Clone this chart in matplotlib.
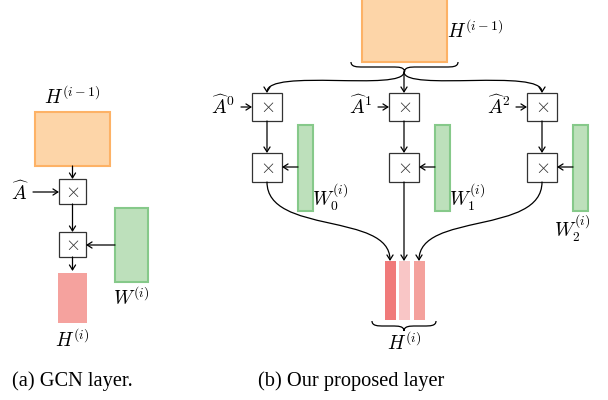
import numpy as np
import matplotlib
matplotlib.use("Agg")
import matplotlib.pyplot as plt
from matplotlib.patches import Rectangle, FancyArrowPatch, PathPatch
from matplotlib.path import Path

plt.rcParams['mathtext.fontset'] = 'cm'

# labels
captions = ['(a) GCN layer.', '(b) Our proposed layer']
adj_labels = [r'$\widehat{A}^0$', r'$\widehat{A}^1$', r'$\widehat{A}^2$']
w_labels = [r'$W_0^{(i)}$', r'$W_1^{(i)}$', r'$W_2^{(i)}$']
h_in = r'$H^{(i-1)}$'
h_out = r'$H^{(i)}$'
out_colors = ['#f07a7a', '#f9c6c6', '#f4a19c']

ORANGE_F, ORANGE_E = '#fdd5a8', '#fdb266'
GREEN_F, GREEN_E = '#bde0bb', '#86c98a'
RED_F = '#f5a29e'
BOX_E = '#333333'
FS = 14

fig = plt.figure(figsize=(6.08, 4.0), dpi=100)
ax = fig.add_axes([0, 0, 1, 1])
ax.set_xlim(0, 608)
ax.set_ylim(400, 0)
ax.axis('off')


def rect(x0, y0, x1, y1, fc, ec, lw=1.5):
    ax.add_patch(Rectangle((x0, y0), x1 - x0, y1 - y0, fc=fc, ec=ec, lw=lw))


def times_box(x0, y0, x1, y1):
    rect(x0, y0, x1, y1, 'white', BOX_E, 0.9)
    ax.text((x0 + x1) / 2, (y0 + y1) / 2, r'$\times$', ha='center', va='center',
            fontsize=14, color='#333333')


def arrow(p0, p1):
    ax.add_patch(FancyArrowPatch(p0, p1, arrowstyle='->,head_length=0.35,head_width=0.22',
                                 mutation_scale=10, lw=0.9, color='black',
                                 shrinkA=0, shrinkB=0))


def curve_arrow(p0, c1, c2, p1):
    path = Path([p0, c1, c2, p1], [Path.MOVETO, Path.CURVE4, Path.CURVE4, Path.CURVE4])
    ax.add_patch(FancyArrowPatch(path=path, arrowstyle='->,head_length=0.35,head_width=0.22',
                                 mutation_scale=10, lw=0.9, color='black'))


def brace(x0, x1, y, depth):
    # curly brace from x0 to x1 at height y, tip pointing down
    xm = (x0 + x1) / 2
    d = depth / 2
    verts = [(x0, y),
             (x0, y + d), (x0 + 6, y + d), (x0 + 12, y + d),
             (xm - 12, y + d),
             (xm - 6, y + d), (xm, y + d), (xm, y + depth),
             (xm, y + d), (xm + 6, y + d), (xm + 12, y + d),
             (x1 - 12, y + d),
             (x1 - 6, y + d), (x1, y + d), (x1, y)]
    codes = [Path.MOVETO,
             Path.CURVE4, Path.CURVE4, Path.CURVE4,
             Path.LINETO,
             Path.CURVE4, Path.CURVE4, Path.CURVE4,
             Path.CURVE4, Path.CURVE4, Path.CURVE4,
             Path.LINETO,
             Path.CURVE4, Path.CURVE4, Path.CURVE4]
    ax.add_patch(PathPatch(Path(verts, codes), fc='none', ec='black', lw=0.9))


# ---- (a) GCN layer ----
rect(35, 112, 110, 166, ORANGE_F, ORANGE_E)
ax.text(72, 97, h_in, ha='center', va='center', fontsize=FS)
times_box(59, 179, 86, 204)
arrow((72.5, 166), (72.5, 179))
ax.text(20, 192, r'$\widehat{A}$', ha='center', va='center', fontsize=FS)
arrow((33, 192), (59, 192))
times_box(59, 232, 86, 257)
arrow((72.5, 204), (72.5, 232))
rect(115, 208, 148, 282, GREEN_F, GREEN_E)
arrow((115, 245), (86, 245))
ax.text(131, 298, r'$W^{(i)}$', ha='center', va='center', fontsize=FS)
arrow((72.5, 257), (72.5, 271))
rect(58, 273, 87, 323, RED_F, 'none', 0)
ax.text(72, 340, h_out, ha='center', va='center', fontsize=FS)

# ---- (b) proposed layer ----
rect(362, -2, 447, 62, ORANGE_F, ORANGE_E)
ax.text(447, 31, h_in, ha='left', va='center', fontsize=FS)
brace(351, 458, 62, 10)
tip = (404, 72)

cols = [267, 404, 542]
bar_x = [390, 404, 419]
for k, cx in enumerate(cols):
    x0, x1 = cx - 15, cx + 15
    times_box(x0, 93, x1, 121)
    times_box(x0, 153, x1, 182)
    arrow((cx, 121), (cx, 153))
    ax.text(x0 - 17, 106, adj_labels[k], ha='right', va='center', fontsize=FS)
    arrow((x0 - 11, 107), (x0, 107))
    gx = cx + 31
    rect(gx, 125, gx + 15, 211, GREEN_F, GREEN_E)
    arrow((gx, 167), (x1, 167))
    if k < 2:
        ax.text(gx + 14, 197, w_labels[k], ha='left', va='center', fontsize=FS)
    else:
        ax.text(gx - 19, 228, w_labels[k], ha='left', va='center', fontsize=FS)
    # from brace tip
    if cx == tip[0]:
        arrow(tip, (cx, 93))
    else:
        curve_arrow(tip, (tip[0], 92), (cx, 68), (cx, 93))
    # to output bars
    bx = bar_x[k]
    if abs(bx - cx) < 1:
        arrow((cx, 182), (bx, 261))
    else:
        curve_arrow((cx, 182), (cx, 235), (bx, 212), (bx, 261))

for k, bx in enumerate(bar_x):
    rect(bx - 5.5, 261, bx + 5.5, 320, out_colors[k], 'none', 0)
brace(372, 436, 321, 10)
ax.text(404, 343, h_out, ha='center', va='center', fontsize=FS)

# captions
ax.text(12, 381, captions[0], ha='left', va='center', fontsize=14.7,
        family='Liberation Serif')
ax.text(258, 381, captions[1], ha='left', va='center', fontsize=14.7,
        family='Liberation Serif')

fig.savefig('out.png', dpi=100)
